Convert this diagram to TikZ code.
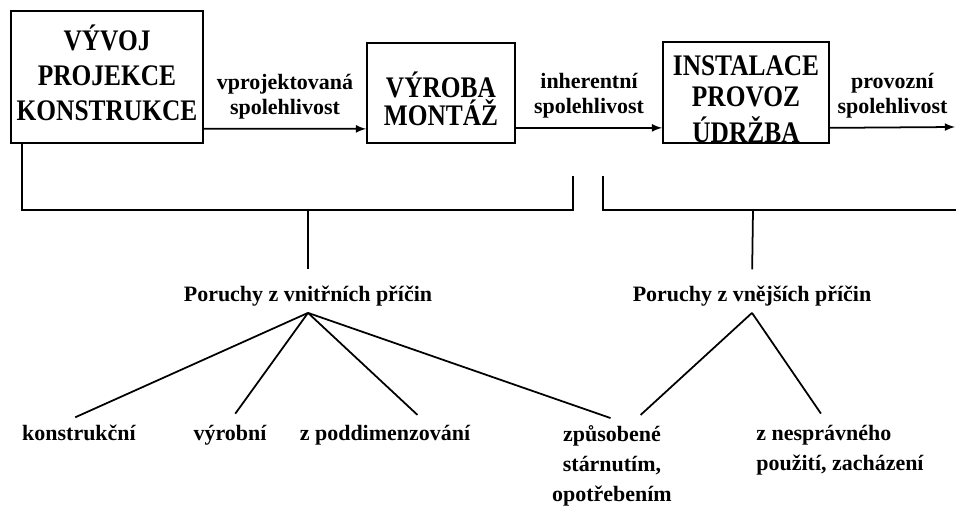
\documentclass[tikz,border=0pt]{standalone}
\usepackage{fontspec}
\setmainfont{Liberation Serif}
\usepackage{graphicx}
\usepackage{tikz}
\usetikzlibrary{arrows}
\usetikzlibrary{positioning}
\tikzset{
    block/.style={
           rectangle,
           draw=black, line width=1pt,
           inner sep=2pt,
           align=center,
           font=\bfseries\fontsize{17}{17.5}\selectfont,
           },
    flowlabel/.style={
           align=center,
           inner sep=2pt,
           font=\bfseries\fontsize{12.5}{14.2}\selectfont,
           },
    cause/.style={
           inner sep=3pt,
           font=\bfseries\fontsize{12.5}{15}\selectfont,
           },
    kind/.style={
           anchor=north,
           inner sep=2pt,
           font=\bfseries\fontsize{12.5}{17}\selectfont,
           },
    bracket/.style={-, line width=1pt},
}
% narrow capitals inside the boxes
\newcommand{\narrowcaps}[1]{\scalebox{0.85}[1]{\begin{tabular}{@{}c@{}}#1\end{tabular}}}

\begin{document}
\begin{tikzpicture}[x=0.02cm,y=-0.02cm,->,>=latex,line width=1pt]
 \useasboundingbox (0,0) rectangle (956,509);

 % the three stages, boxes sized as in the picture
 \node[block, minimum width=3.84cm, minimum height=2.64cm] (VYVOJ) at (107,77)
  {\narrowcaps{VÝVOJ\\[2.5pt]PROJEKCE\\[2.5pt]KONSTRUKCE}};
 % text sits low in the two smaller boxes
 \node[block, minimum width=2.96cm, minimum height=2cm] (VYROBA) at (441,93)
  {\raisebox{-0.35cm}[0pt][0pt]{\narrowcaps{VÝROBA\\[-4pt]MONTÁŽ}}};
 \node[block, minimum width=3.32cm, minimum height=2.02cm] (INSTAL) at (746,92.5)
  {\raisebox{-0.36cm}[0pt][0pt]{\narrowcaps{INSTALACE\\[0.5pt]PROVOZ\\[0.5pt]ÚDRŽBA}}};

 % free end of the last arrow
 \coordinate (END) at (955,127);

 % arrows between the stages, label above each
 \path
 ([yshift=0.3cm]VYVOJ.south east)  edge node[flowlabel, above, yshift=0.1cm]{vprojektovaná\\spolehlivost} ([yshift=0.3cm]VYROBA.south west)
 ([yshift=0.32cm]VYROBA.south east) edge node[flowlabel, above, yshift=0.1cm]{inherentní\\spolehlivost} ([yshift=0.32cm]INSTAL.south west)
 ([yshift=0.32cm]INSTAL.south east) edge node[flowlabel, above, yshift=0.1cm]{provozní\\spolehlivost} (END);

 % brackets below the stages
 \coordinate (VNL) at (573,210);
 \coordinate (VNLTOP) at (573,176);
 \coordinate (VNSTEM) at (308,210);
 \coordinate (EXTOP) at (603,176);
 \coordinate (EXR) at (956,210);
 \coordinate (EXSTEM) at (753,210);
 \draw[bracket] ([xshift=0.24cm]VYVOJ.south west) |- (VNL) -- (VNLTOP);
 \draw[bracket] (EXTOP) |- (EXR);

 % the two groups of causes
 \node[cause, anchor=base] (VNITR) at (308,302) {Poruchy z vnitřních příčin};
 \node[cause, anchor=base] (VNEJS) at (752,302) {Poruchy z vnějších příčin};
 \draw[bracket, shorten >=0.22cm] (VNSTEM) -- (VNITR.north);
 \draw[bracket, shorten >=0.22cm] (EXSTEM) -- (VNEJS.north);

 % kinds of failures
 \node[kind] (KONSTR) at (79,421) {konstrukční};
 \node[kind] (VYROB) at (230,421) {výrobní};
 \node[kind] (PODDIM) at (385,421) {z poddimenzování};
 \node[kind, align=center] (STARN) at (612,421) {způsobené\\stárnutím,\\opotřebením};
 \node[kind, align=left] (NESPR) at (840,421) {z nesprávného\\použití, zacházení};

 \draw[bracket, shorten >=0.18cm] (VNITR.south) -- ([xshift=-0.24cm]KONSTR.north);
 \draw[bracket, shorten >=0.18cm] (VNITR.south) -- (VYROB.north);
 \draw[bracket, shorten >=0.18cm] (VNITR.south) -- ([xshift=0.78cm]PODDIM.north);
 \draw[bracket, shorten >=0.18cm] (VNITR.south) -- ([xshift=0.14cm]STARN.north);
 \draw[bracket, shorten >=0.18cm] (VNEJS.south) -- ([xshift=0.44cm]STARN.north);
 \draw[bracket, shorten >=0.18cm] (VNEJS.south) -- ([xshift=-0.28cm]NESPR.north);

\end{tikzpicture}
\end{document}
